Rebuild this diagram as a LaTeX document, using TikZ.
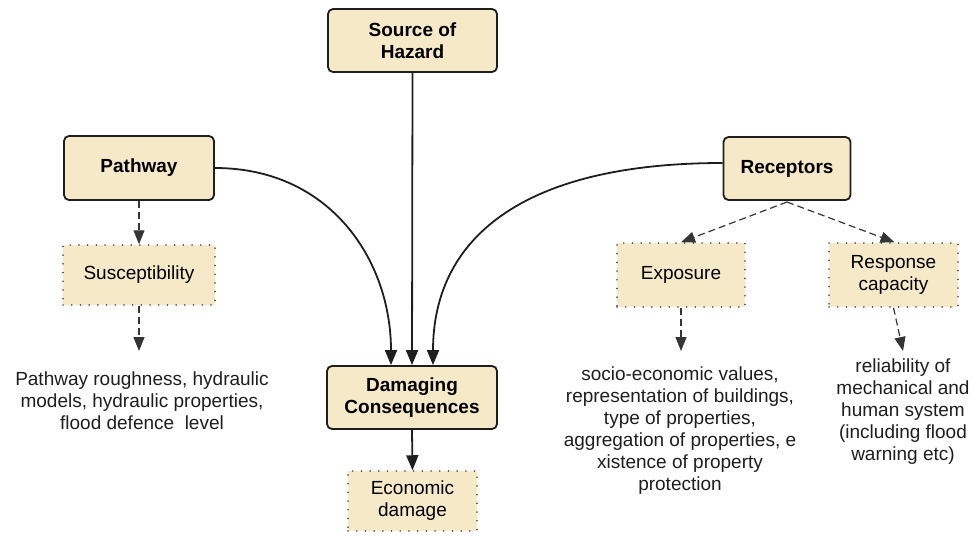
\documentclass[tikz,border=0pt]{standalone}
\usepackage{fontspec}
\setmainfont{Liberation Sans}
\usetikzlibrary{arrows.meta}
\definecolor{boxfill}{RGB}{245,233,200}
\definecolor{edge}{RGB}{30,30,30}
\begin{document}
\begin{tikzpicture}[x=1pt,y=-1pt,
  every node/.style={font=\fontsize{19}{22}\selectfont, align=center, inner sep=0pt},
  mainbox/.style={draw=edge, line width=1.8pt, fill=boxfill, rounded corners=5pt, font=\fontsize{19}{22}\selectfont\bfseries},
  subbox/.style={draw=edge!80, line width=1.5pt, fill=boxfill, dash pattern=on 0.1pt off 8.6pt, line cap=round},
  plaintext/.style={text=edge},
  solidarrow/.style={draw=edge, line width=1.8pt, -{Triangle[length=15pt,width=12pt]}},
  dasharrow/.style={draw=edge!90, line width=1.2pt, dash pattern=on 7pt off 4pt, -{Triangle[length=14pt,width=11pt]}}
]
\useasboundingbox (0,0) rectangle (973,535);

% main boxes
\node[mainbox, minimum width=169pt, minimum height=63pt] (src) at (412.5,40.5) {Source of\\Hazard};
\node[mainbox, minimum width=150pt, minimum height=64pt] (path) at (139,168) {Pathway};
\node[mainbox, minimum width=127pt, minimum height=63pt] (rec) at (787,168.5) {Receptors};
\node[mainbox, minimum width=170pt, minimum height=63pt] (dam) at (412,397.5) {Damaging\\Consequences};

% secondary boxes
\node[subbox, minimum width=152pt, minimum height=60pt] (sus) at (139,275) {Susceptibility};
\node[subbox, minimum width=128pt, minimum height=64pt] (expo) at (681,275) {Exposure};
\node[subbox, minimum width=129pt, minimum height=64pt] (resp) at (893.5,275) {Response\\capacity};
\node[subbox, minimum width=129pt, minimum height=60pt] (eco) at (412.5,501) {Economic\\damage};

% descriptive texts
\node[plaintext] (pathtxt) at (142,401) {Pathway roughness, hydraulic\\models, hydraulic properties,\\flood defence\ \ level};
\node[plaintext] (expotxt) at (680,431) {socio-economic values,\\representation of buildings,\\type of properties,\\aggregation of properties, e\\xistence of property\\protection};
\node[plaintext] (resptxt) at (903,412) {reliability of\\mechanical and\\human system\\(including flood\\warning etc)};

% anchor points for arrow ends
\coordinate (pathtip) at (139,351);
\coordinate (expotip) at (681,351);
\coordinate (resptip) at (903,351);
\coordinate (recsplit) at (787,202);

% solid connectors into the consequences box
\draw[solidarrow] (src.south) -- (dam.north);
\draw[solidarrow] (path.east) .. controls (330,168) and (391,260) .. ([xshift=-21pt]dam.north);
\draw[solidarrow] (rec.west |- 0,163) .. controls (520,163) and (433,240) .. ([xshift=21pt]dam.north);
\draw[solidarrow] (dam.south) -- (eco.north);

% dashed connectors
\draw[dasharrow] (path.south) -- (sus.north);
\draw[dasharrow] (sus.south) -- (pathtip);
\draw[dasharrow] (recsplit) -- (expo.north);
\draw[dasharrow] (recsplit) -- ([xshift=1pt]resp.north);
\draw[dasharrow] (expo.south) -- (expotip);
\draw[dasharrow] (resp.south) -- (resptip);
\end{tikzpicture}
\end{document}
